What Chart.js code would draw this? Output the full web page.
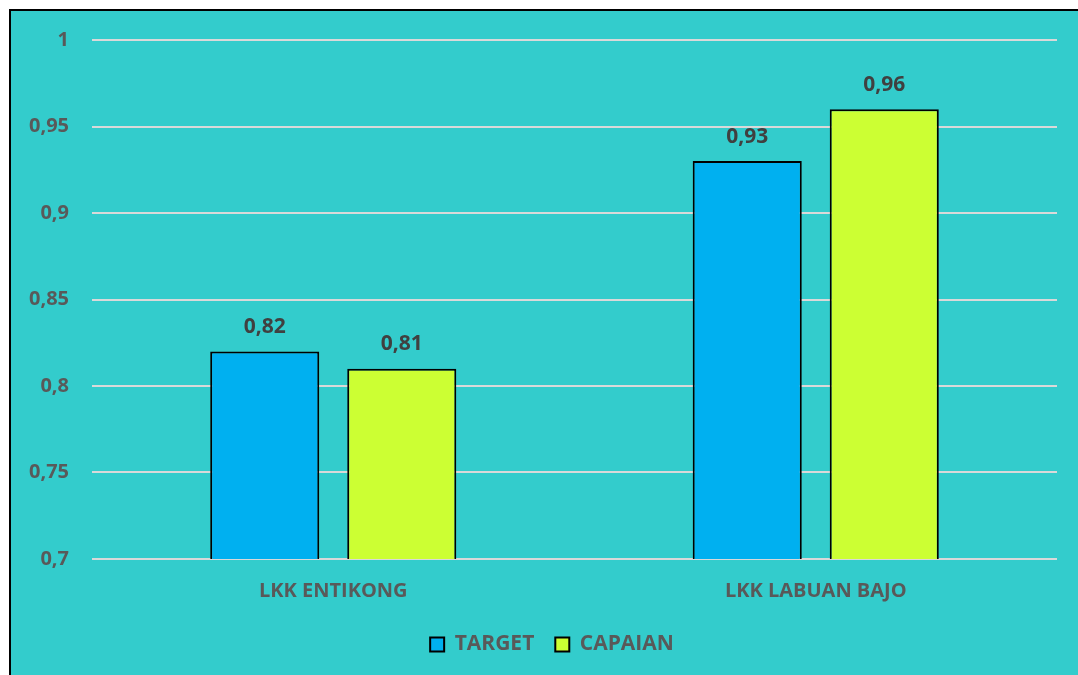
<!DOCTYPE html>
<html>
<head>
<meta charset="utf-8">
<script src="https://cdn.jsdelivr.net/npm/chart.js@4/dist/chart.umd.min.js"></script>
<style>
  html, body { margin: 0; padding: 0; background: #ffffff; }
  #frame {
    position: absolute; left: 9px; top: 9px;
    width: 1067px; height: 664px;
    border-top: 2px solid #000; border-left: 2px solid #000;
    background: #33cccc;
  }
  #chart { display: block; }
</style>
</head>
<body>
<div id="frame"><canvas id="chart" width="1067" height="664"></canvas></div>
<script>
// chart data
const categories = ['LKK ENTIKONG', 'LKK LABUAN BAJO'];
const targetValues = [0.82, 0.93];
const capaianValues = [0.81, 0.96];
const seriesNames = ['TARGET', 'CAPAIAN'];

const fontFamily = '"Open Sans", Lato, sans-serif';

// comma decimal like the source
const fmt = (v) => String(Math.round(v * 100) / 100).replace('.', ',');

// draws value above each bar
const valueLabels = {
  id: 'valueLabels',
  afterDatasetsDraw(chart) {
    const ctx = chart.ctx;
    ctx.save();
    ctx.font = 'bold 21px ' + fontFamily;
    ctx.fillStyle = '#404040';
    ctx.textAlign = 'center';
    ctx.textBaseline = 'bottom';
    chart.data.datasets.forEach((ds, i) => {
      chart.getDatasetMeta(i).data.forEach((bar, j) => {
        ctx.fillText(fmt(ds.data[j]), bar.x, bar.y - 14);
      });
    });
    ctx.restore();
  }
};

// nudge the legend a bit to the right, like the original
const legendShift = {
  id: 'legendShift',
  afterLayout(chart) {
    if (chart.legend) {
      chart.legend.left += 18;
      chart.legend.right += 18;
    }
  }
};

new Chart(document.getElementById('chart'), {
  type: 'bar',
  data: {
    labels: categories,
    datasets: [
      {
        label: seriesNames[0],
        data: targetValues,
        backgroundColor: '#00b0f0',
        borderColor: '#000000',
        borderWidth: 2
      },
      {
        label: seriesNames[1],
        data: capaianValues,
        backgroundColor: '#ccff33',
        borderColor: '#000000',
        borderWidth: 2
      }
    ]
  },
  options: {
    responsive: false,
    animation: false,
    categoryPercentage: 0.568,
    barPercentage: 0.796,
    layout: { padding: { top: 29, right: 21, left: 0, bottom: 10 } },
    plugins: {
      tooltip: { enabled: false },
      legend: {
        position: 'bottom',
        labels: {
          color: '#595959',
          font: { family: fontFamily, size: 21, weight: 'bold' },
          boxWidth: 14,
          boxHeight: 14,
          padding: 21,
          generateLabels(chart) {
            return chart.data.datasets.map((ds, i) => ({
              text: ds.label,
              fillStyle: ds.backgroundColor,
              strokeStyle: '#000000',
              lineWidth: 2,
              fontColor: '#595959',
              datasetIndex: i
            }));
          }
        }
      }
    },
    scales: {
      x: {
        afterFit(scale) { scale.height = 54; },
        grid: { display: false, drawTicks: false },
        border: { display: false },
        ticks: {
          color: '#595959',
          padding: 20,
          font: { family: fontFamily, size: 20, weight: 'bold' }
        }
      },
      y: {
        min: 0.7,
        max: 1,
        afterFit(scale) { scale.width = 81; scale.paddingTop = 0; },
        grid: { color: '#d9d9d9', lineWidth: 2, drawTicks: false },
        border: { display: false },
        ticks: {
          stepSize: 0.05,
          color: '#595959',
          padding: 23,
          font: { family: fontFamily, size: 20, weight: 'bold' },
          callback: (v) => fmt(v)
        }
      }
    }
  },
  plugins: [valueLabels, legendShift]
});
</script>
</body>
</html>
